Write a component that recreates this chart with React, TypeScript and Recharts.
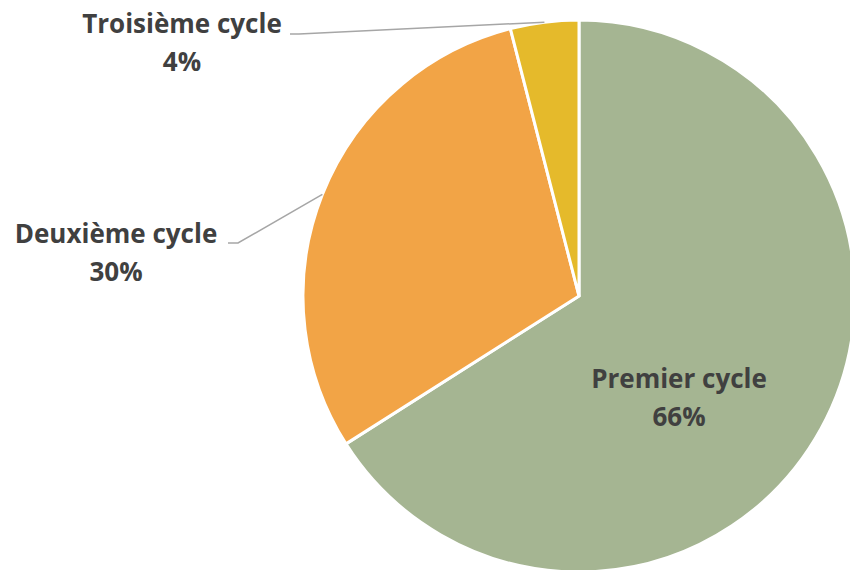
import React from 'react';
import { PieChart, Pie, Cell } from 'recharts';

const categories = ['Premier cycle', 'Deuxième cycle', 'Troisième cycle'];
const shares = [66, 30, 4];
const colors = ['#A5B592', '#F2A446', '#E5BA2B'];

const data = categories.map((name, i) => ({ name, value: shares[i] }));

const RAD = Math.PI / 180;

// label anchor offsets from pie centre (Excel-like placement)
const labelSpots = [
  { dx: 100, dy: 92, line: null as null | number[][] },
  { dx: -463, dy: -53, line: [[-341, -53], [-351, -53]] },
  { dx: -397, dy: -263, line: [[-280, -262], [-289, -262]] },
];

const renderLabel = (props: any) => {
  const { cx, cy, midAngle, outerRadius, index, name, value } = props;
  const spot = labelSpots[index];
  const x = cx + spot.dx;
  const y = cy + spot.dy;
  let path = null;
  if (spot.line) {
    const sx = cx + outerRadius * Math.cos(-midAngle * RAD);
    const sy = cy + outerRadius * Math.sin(-midAngle * RAD);
    const pts = [[sx, sy], ...spot.line.map(([a, b]) => [cx + a, cy + b])];
    path = (
      <polyline
        points={pts.map((p) => p.join(',')).join(' ')}
        fill="none"
        stroke="#A6A6A6"
        strokeWidth={1.5}
      />
    );
  }
  return (
    <g key={`lbl-${index}`}>
      {path}
      <text
        x={x}
        y={y}
        textAnchor="middle"
        fill="#404040"
        fontFamily="'Open Sans', sans-serif"
        fontWeight="bold"
        fontSize={26}
      >
        <tspan x={x} dy={0}>{name}</tspan>
        <tspan x={x} dy={38}>{`${value}%`}</tspan>
      </text>
    </g>
  );
};

export default function App() {
  return (
    <div style={{ position: 'absolute', left: 0, top: 0, width: 850, height: 570, background: '#fff', overflow: 'hidden' }}>
      <PieChart width={850} height={570} margin={{ top: 0, right: 0, bottom: 0, left: 0 }}>
        <Pie
          data={data}
          dataKey="value"
          nameKey="name"
          cx={579}
          cy={296}
          outerRadius={276}
          startAngle={90}
          endAngle={-270}
          stroke="#fff"
          strokeWidth={3}
          label={renderLabel}
          labelLine={false}
          isAnimationActive={false}
        >
          {data.map((entry, i) => (
            <Cell key={`cell-${i}`} fill={colors[i]} />
          ))}
        </Pie>
      </PieChart>
    </div>
  );
}
